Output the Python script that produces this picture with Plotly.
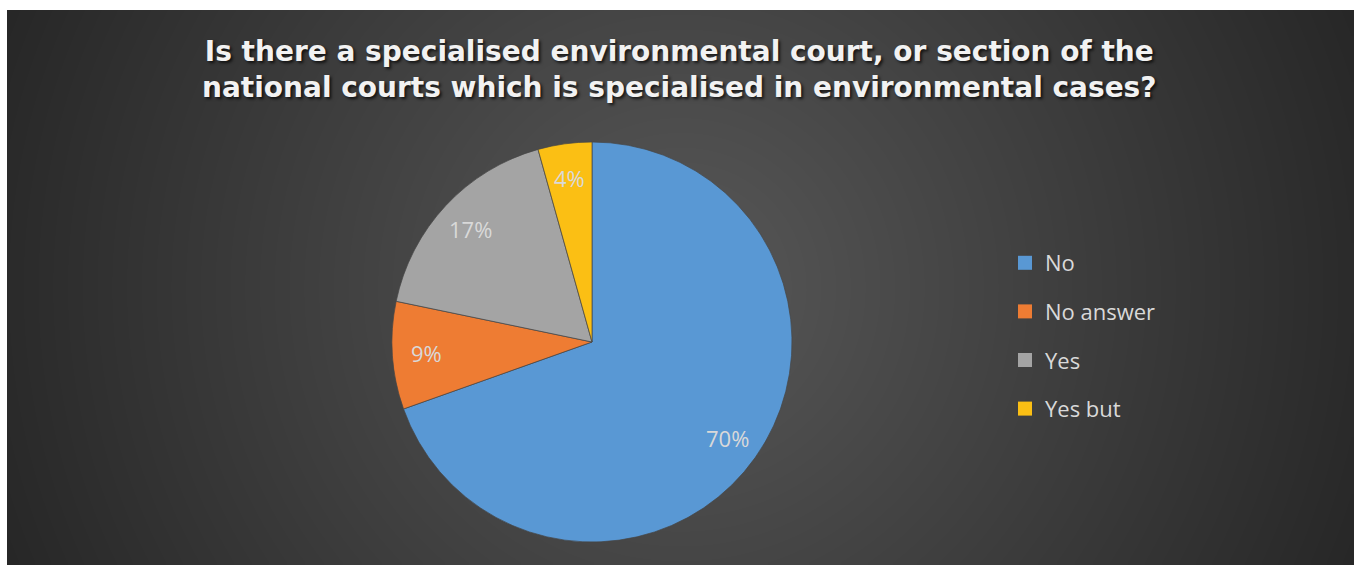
import numpy as np
import plotly.graph_objects as go

# Survey answers
categories = ["No", "No answer", "Yes", "Yes but"]
counts = [16, 2, 4, 1]
colors = ["#5998d4", "#ee7c33", "#a4a4a4", "#fbbf14"]

title_lines = [
    "Is there a specialised environmental court, or section of the",
    "national courts which is specialised in environmental cases?",
]

W, H = 1357, 565
X0, X1, Y0 = 7, 1354, 10  # chart frame inside the white page

fig = go.Figure()

# Radial dark-grey backdrop behind the chart
gx = np.arange(X0, X1 + 1, 8)
gy = np.arange(Y0, H + 1, 8)
cx, cy = (X0 + X1) / 2, (Y0 + H) / 2
rr = np.sqrt((gx[None, :] - cx) ** 2 + (gy[:, None] - cy) ** 2)
fig.add_trace(go.Heatmap(
    x=gx, y=gy, z=88 - 0.065 * rr,
    colorscale=[[0, "#262626"], [1, "#585858"]], zmin=40, zmax=88,
    zsmooth="best", showscale=False, hoverinfo="skip",
))

# Pie, clockwise from 12 o'clock
pcx, pcy, R = 592, 342, 200
fig.add_trace(go.Pie(
    labels=categories, values=counts, sort=False, direction="clockwise",
    rotation=0, marker=dict(colors=colors, line=dict(color="rgba(70,70,70,0.7)", width=1)),
    textinfo="none",
    domain=dict(x=[(pcx - R) / W, (pcx + R) / W], y=[(H - pcy - R) / H, (H - pcy + R) / H]),
    showlegend=False, hoverinfo="label+percent",
))

# Percentage labels placed along each slice's mid-angle
total = sum(counts)
start = 0.0
for v in counts:
    share = v / total
    mid = (start + share / 2) * 2 * np.pi
    start += share
    fig.add_annotation(
        x=pcx + 0.83 * R * np.sin(mid), y=pcy - 0.83 * R * np.cos(mid),
        xref="x", yref="y", text=f"{share:.0%}", showarrow=False,
        font=dict(family="Open Sans", size=22, color="#d9d9d9"),
    )

# Legend entries, one per category
for cat, col in zip(categories, colors):
    fig.add_trace(go.Scatter(
        x=[None], y=[None], mode="markers", name=cat, legendgroup=cat,
        marker=dict(symbol="square", size=14, color=col),
    ))

# Two-line title
fig.add_annotation(
    x=679, y=69, xref="x", yref="y", xanchor="center", yanchor="middle",
    text="<br>".join(title_lines), showarrow=False, align="center",
    font=dict(family="DejaVu Sans", size=28, color="#f2f2f2", weight="bold",
              shadow="2px 2px 3px rgba(0,0,0,0.7)"),
)

fig.update_layout(
    width=W, height=H,
    margin=dict(l=0, r=0, t=0, b=0),
    paper_bgcolor="white", plot_bgcolor="rgba(0,0,0,0)",
    xaxis=dict(domain=[X0 / W, X1 / W], range=[X0, X1], visible=False, fixedrange=True),
    yaxis=dict(domain=[0, 1 - Y0 / H], range=[H, Y0], visible=False, fixedrange=True),
    legend=dict(
        x=1005 / W, xanchor="left", y=1 - 242 / H, yanchor="top",
        font=dict(family="Open Sans", size=22, color="#d9d9d9"),
        bgcolor="rgba(0,0,0,0)", tracegroupgap=17, itemwidth=30,
    ),
)

fig.write_html("out.html")
